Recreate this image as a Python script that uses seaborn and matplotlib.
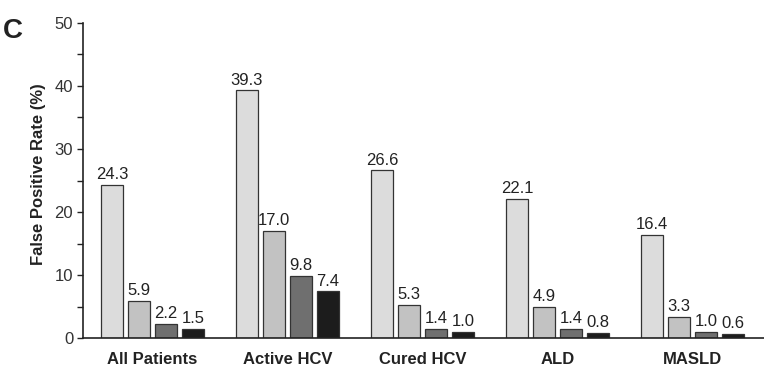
import matplotlib
matplotlib.use('Agg')
import matplotlib.pyplot as plt
from matplotlib.ticker import MultipleLocator
import seaborn as sns
import pandas as pd

# data
groups = ['All Patients', 'Active HCV', 'Cured HCV', 'ALD', 'MASLD']
series = ['S1', 'S2', 'S3', 'S4']
s1 = [24.3, 39.3, 26.6, 22.1, 16.4]
s2 = [5.9, 17.0, 5.3, 4.9, 3.3]
s3 = [2.2, 9.8, 1.4, 1.4, 1.0]
s4 = [1.5, 7.4, 1.0, 0.8, 0.6]
colors = ['#dcdcdc', '#c2c2c2', '#6f6f6f', '#1c1c1c']

rows = []
for name, vals in zip(series, [s1, s2, s3, s4]):
    for g, v in zip(groups, vals):
        rows.append({'group': g, 'series': name, 'value': v})
df = pd.DataFrame(rows)

sns.set_style('ticks')
plt.rcParams['font.family'] = ['Liberation Sans', 'DejaVu Sans']

fig = plt.figure(figsize=(7.64, 3.80), dpi=100)
ax = fig.add_axes([0.1086, 0.1105, 0.8914, 0.829])

sns.barplot(data=df, x='group', y='value', hue='series', order=groups,
            hue_order=series, palette=colors, width=0.8, gap=0.2,
            edgecolor='#333333', linewidth=0.9, legend=False, ax=ax)

for c in ax.containers:
    ax.bar_label(c, fmt='%.1f', padding=2, fontsize=12, color='#222222')

ax.set_xlim(-0.515, 4.53)
ax.set_ylim(0, 50)
ax.yaxis.set_major_locator(MultipleLocator(10))
ax.yaxis.set_minor_locator(MultipleLocator(5))
ax.tick_params(axis='y', which='major', length=4, width=1, labelsize=12,
               color='#222222', labelcolor='#333333', pad=3)
ax.tick_params(axis='y', which='minor', length=4, width=1, color='#222222')
ax.tick_params(axis='x', length=0, pad=10)
for lab in ax.get_xticklabels():
    lab.set_fontweight('bold')
    lab.set_fontsize(12)
    lab.set_color('#222222')
ax.set_xlabel('')
ax.set_ylabel('False Positive Rate (%)', fontsize=12, fontweight='bold',
              color='#222222')
ax.yaxis.set_label_coords(-0.055, 0.52)
sns.despine(ax=ax)
for sp in ['left', 'bottom']:
    ax.spines[sp].set_color('#222222')
    ax.spines[sp].set_linewidth(1.2)

fig.text(0.004, 0.9, 'C', fontsize=20, fontweight='bold', color='#222222')

fig.savefig('out.png', dpi=100)
